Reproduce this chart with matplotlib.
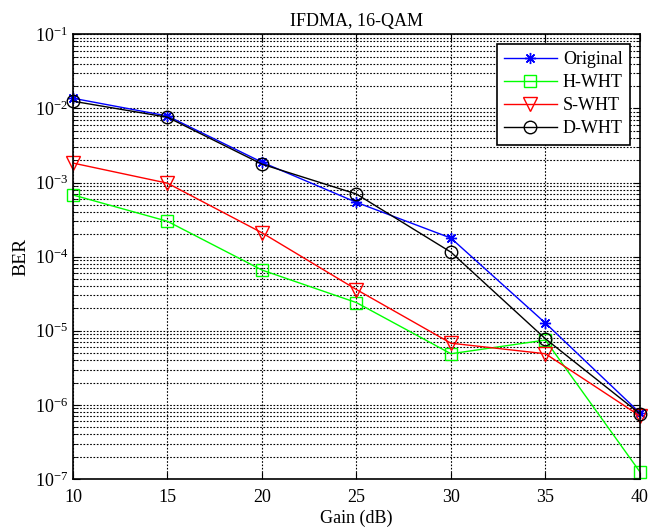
import matplotlib.pyplot as plt
from matplotlib.ticker import LogLocator, NullFormatter

plt.rcParams["font.family"] = ["Liberation Serif", "DejaVu Serif"]
plt.rcParams["mathtext.fontset"] = "stix"

gain = [10, 15, 20, 25, 30, 35, 40]
ber_original = [1.37e-2, 7.9e-3, 1.88e-3, 5.4e-4, 1.78e-4, 1.27e-5, 7.8e-7]
ber_hwht = [6.8e-4, 3.0e-4, 6.6e-5, 2.4e-5, 4.9e-6, 7.5e-6, 1.25e-7]
ber_swht = [1.83e-3, 9.8e-4, 2.1e-4, 3.6e-5, 6.8e-6, 4.9e-6, 7.1e-7]
ber_dwht = [1.25e-2, 7.6e-3, 1.77e-3, 7.0e-4, 1.15e-4, 7.8e-6, 7.6e-7]

fig = plt.figure(figsize=(6.57, 5.27), dpi=100)
ax = fig.add_axes([0.111, 0.091, 0.863, 0.844])

ax.semilogy(gain, ber_original, "-", marker=(8, 2, 0), color="#0000ff", lw=1,
            ms=8, mew=1, label="Original", clip_on=False)
ax.semilogy(gain, ber_hwht, "-s", color="#00ff00", lw=1, ms=9, mfc="none",
            label="H-WHT", clip_on=False)
ax.semilogy(gain, ber_swht, "-v", color="#ff0000", lw=1, ms=10, mfc="none",
            label="S-WHT", clip_on=False)
ax.semilogy(gain, ber_dwht, "-o", color="black", lw=1, ms=9, mfc="none",
            label="D-WHT", clip_on=False)

ax.set_xlim(10, 40)
ax.set_ylim(1e-7, 1e-1)
ax.set_xticks(gain)
ax.yaxis.set_major_locator(LogLocator(base=10, numticks=10))
ax.yaxis.set_minor_locator(LogLocator(base=10, subs=range(2, 10), numticks=100))
ax.yaxis.set_minor_formatter(NullFormatter())

ax.grid(True, which="major", ls=(0, (1.5, 1.5)), color="black", lw=0.8)
ax.grid(True, which="minor", axis="y", ls=(0, (1.5, 1.5)), color="black", lw=0.8)

ax.tick_params(which="both", direction="in", top=True, right=True, labelsize=13)
ax.tick_params(axis="x", pad=7)
ax.tick_params(which="major", length=5)
ax.tick_params(which="minor", length=3)
for s in ax.spines.values():
    s.set_linewidth(1.2)

ax.set_title("IFDMA, 16-QAM", fontsize=13)
ax.set_xlabel("Gain (dB)", fontsize=13, labelpad=3)
ax.set_ylabel("BER", fontsize=14)

leg = ax.legend(loc="upper right", fontsize=13, fancybox=False, framealpha=1,
                edgecolor="black", handlelength=2.9, handletextpad=0.35,
                borderaxespad=0.55, labelspacing=0.33, borderpad=0.4)
leg.get_frame().set_linewidth(1.2)

fig.savefig("out.png", dpi=100)
